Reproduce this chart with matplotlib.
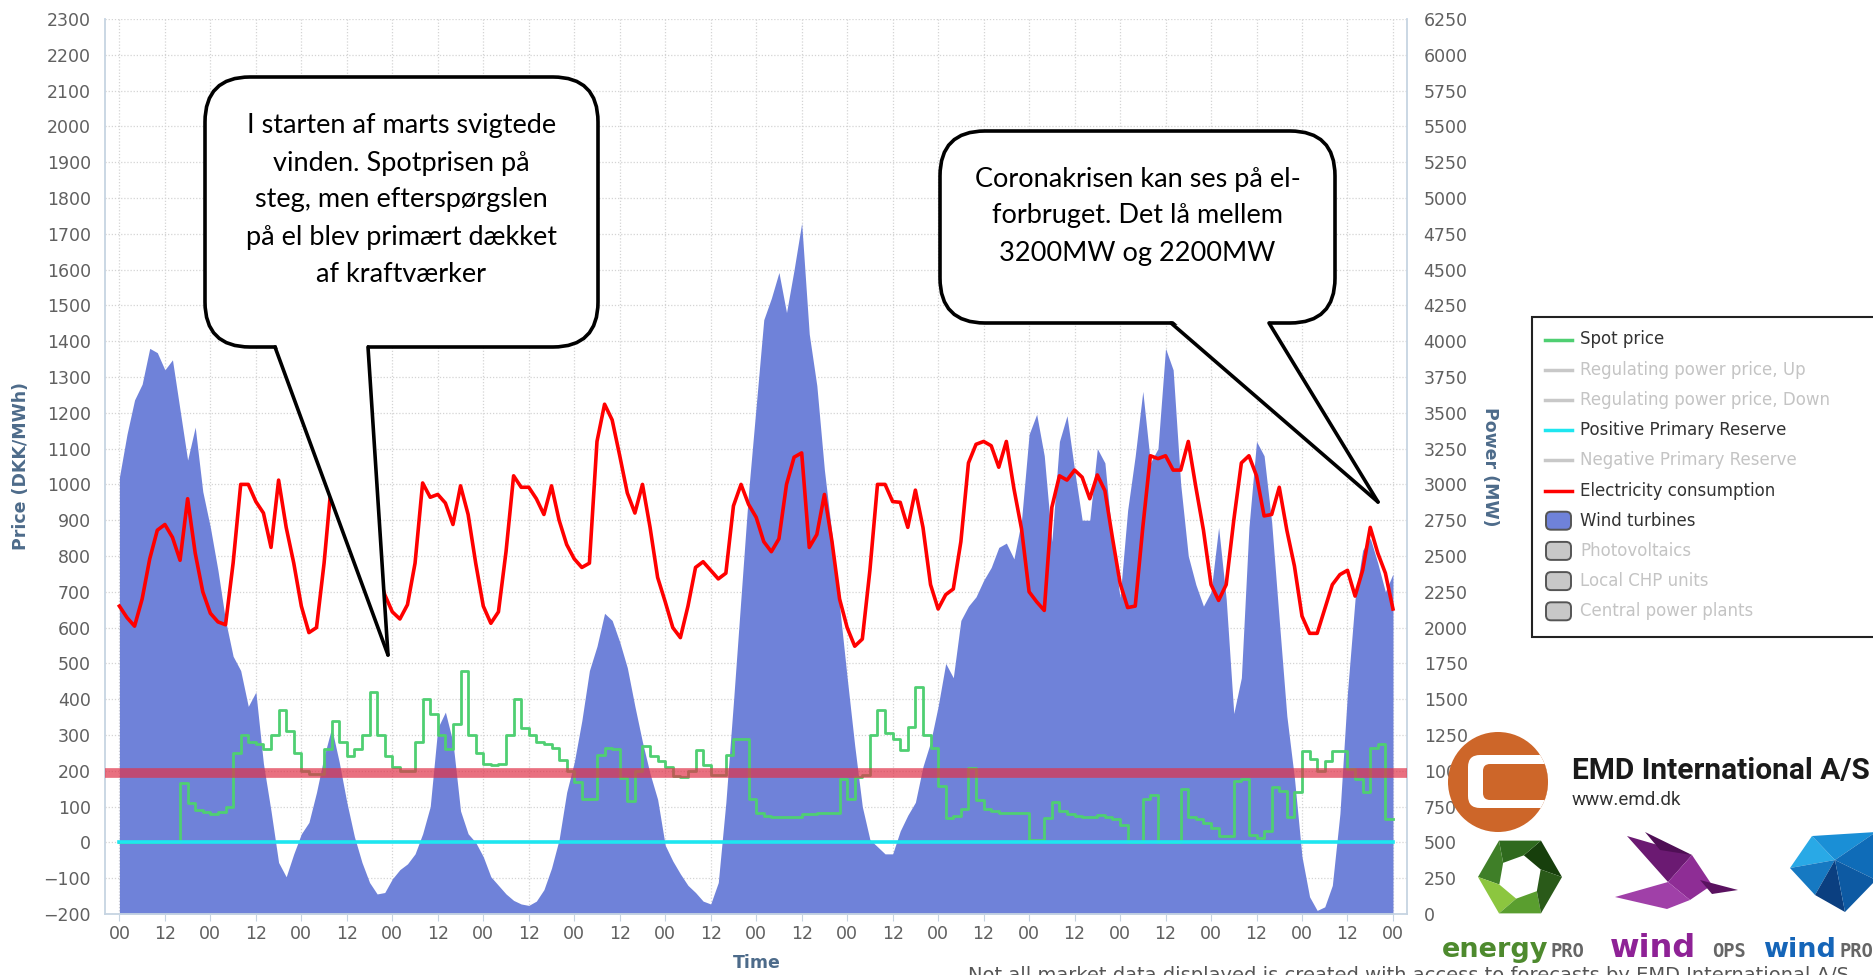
import numpy as np
import matplotlib.pyplot as plt
from matplotlib.patches import FancyBboxPatch, Polygon, Circle, Rectangle

# ---- data: 14 days, values every 2 hours ----
# wind turbine production (MW), h = 0, 2, ..., 336
wind_mw = [
    3050, 3350, 3590, 3700, 3950, 3920, 3800, 3870, 3520, 3170, 3400, 2950,
    2700, 2400, 2050, 1800, 1700, 1450, 1550, 1050, 720, 360, 260, 420,
    560, 640, 850, 1100, 1300, 1060, 780, 540, 360, 220, 140, 150,
    245, 310, 350, 420, 560, 750, 1300, 1410, 1200, 720, 560, 500,
    400, 260, 200, 140, 95, 70, 60, 90, 170, 320, 520, 850,
    1060, 1350, 1700, 1870, 2100, 2050, 1900, 1720, 1450, 1200, 980, 800,
    480, 370, 280, 200, 150, 90, 70, 220, 780, 1480, 2215, 2950,
    3550, 4150, 4300, 4480, 4200, 4500, 4825, 4050, 3690, 3100, 2650, 2150,
    1650, 1175, 750, 520, 470, 420, 420, 580, 690, 780, 1030, 1200,
    1450, 1750, 1650, 2050, 2150, 2215, 2330, 2420, 2560, 2590, 2480, 2750,
    3350, 3490, 3200, 2600, 3300, 3480, 3100, 2750, 2750, 3250, 3150, 2600,
    2210, 2820, 3200, 3650, 3150, 3250, 3950, 3800, 3000, 2500, 2300, 2150,
    2250, 2700, 2200, 1400, 1650, 2700, 3300, 3200, 2735, 2050, 1383, 950,
    400, 120, 25, 50, 200, 700, 1550, 2200, 2540, 2625, 2450, 2250,
    2375,
]

# electricity consumption (MW)
consumption_mw = [
    2150, 2070, 2010, 2200, 2480, 2680, 2720, 2630, 2470, 2900, 2520, 2250,
    2100, 2040, 2020, 2450, 3000, 3000, 2880, 2800, 2560, 3030, 2700, 2450,
    2150, 1965, 2000, 2450, 3030, 3000, 2950, 2980, 2900, 2750, 2400, 2230,
    2110, 2060, 2160, 2450, 3010, 2910, 2930, 2870, 2720, 2990, 2790, 2450,
    2150, 2030, 2110, 2530, 3060, 2980, 2980, 2900, 2790, 2990, 2750, 2580,
    2480, 2420, 2450, 3300, 3560, 3450, 3200, 2940, 2800, 3000, 2700, 2350,
    2180, 2000, 1930, 2150, 2420, 2460, 2400, 2340, 2380, 2850, 3000, 2860,
    2770, 2600, 2530, 2620, 3000, 3190, 3220, 2560, 2650, 2930, 2600, 2200,
    2000, 1870, 1920, 2400, 3000, 3000, 2880, 2875, 2700, 2960, 2700, 2300,
    2130, 2230, 2270, 2600, 3150, 3280, 3300, 3270, 3120, 3300, 2970, 2690,
    2250, 2180, 2120, 2840, 3060, 3030, 3100, 3050, 2900, 3066, 2956, 2625,
    2310, 2140, 2150, 2700, 3200, 3180, 3200, 3100, 3100, 3300, 2980, 2680,
    2300, 2190, 2300, 2750, 3150, 3200, 3060, 2780, 2790, 2980, 2680, 2430,
    2080, 1960, 1960, 2130, 2300, 2370, 2400, 2220, 2400, 2700, 2520, 2380,
    2130,
]

# spot price (DKK/MWh), one value per 2-hour step starting at h = 0, 2, ..., 334
spot_price = [
    0, 0, 0, 0, 0, 0, 0, 0, 165, 110, 90, 85,
    80, 85, 100, 250, 300, 280, 275, 260, 300, 370, 310, 250,
    200, 190, 190, 260, 340, 280, 240, 260, 300, 420, 300, 240,
    210, 200, 200, 280, 400, 360, 300, 260, 330, 480, 300, 250,
    220, 215, 220, 300, 400, 320, 300, 280, 275, 265, 230, 200,
    170, 120, 120, 245, 265, 260, 180, 115, 200, 270, 240, 226,
    210, 185, 182, 200, 258, 215, 189, 189, 245, 289, 290, 120,
    82, 75, 70, 70, 70, 72, 78, 80, 82, 82, 82, 176,
    120, 182, 189, 300, 371, 305, 290, 258, 321, 434, 300, 264,
    157, 69, 75, 94, 208, 119, 94, 88, 82, 82, 82, 82,
    6, 6, 69, 113, 88, 80, 75, 70, 72, 77, 70, 66,
    50, 0, 0, 120, 132, 0, 0, 0, 149, 72, 65, 55,
    40, 17, 17, 171, 177, 22, 11, 33, 155, 143, 72, 140,
    254, 232, 199, 226, 254, 254, 204, 177, 140, 265, 276, 66,
]

reserve_price = 0      # positive primary reserve
band_price = 195       # red horizontal band

legend_labels = ["Spot price", "Regulating power price, Up", "Regulating power price, Down",
                 "Positive Primary Reserve", "Negative Primary Reserve", "Electricity consumption",
                 "Wind turbines", "Photovoltaics", "Local CHP units", "Central power plants"]
legend_kinds = ["line", "line", "line", "line", "line", "line", "box", "box", "box", "box"]
legend_colors = ["#4fcf72", "#c8c8c8", "#c8c8c8", "#1ee6f0", "#c8c8c8", "#ff0000",
                 "#6f82d9", "#c8c8c8", "#c8c8c8", "#c8c8c8"]
legend_active = [True, False, False, True, False, True, True, False, False, False]

note1 = "I starten af marts svigtede\nvinden. Spotprisen på\nsteg, men efterspørgslen\npå el blev primært dækket\naf kraftværker"
note2 = "Coronakrisen kan ses på el-\nforbruget. Det lå mellem\n3200MW og 2200MW"

hours = np.arange(len(wind_mw)) * 2
spot_hours = np.arange(len(spot_price) + 1) * 2

W, H = 1874, 975
fig = plt.figure(figsize=(W / 100, H / 100), dpi=100)
ax = fig.add_axes([105 / W, 61 / H, 1302 / W, 895 / H])
ax2 = ax.twinx()
ax.set_zorder(ax2.get_zorder() + 1)
ax.patch.set_visible(False)

axis_col = "#c6d4e2"
tick_col = "#606060"
label_col = "#4d6b8a"

# power axis: wind + consumption
ax2.fill_between(hours, 0, wind_mw, color="#6f82d9", lw=0, zorder=1)
ax2.plot(hours, consumption_mw, color="#ff0000", lw=2.6, zorder=2)

# price axis: spot, reserve, band
ax.step(spot_hours, spot_price + [spot_price[-1]], where="post", color="#4fcf72", lw=2.0, zorder=2)
ax.plot([hours[0], hours[-1]], [reserve_price, reserve_price], color="#1ee6f0", lw=2.6, zorder=2.5)
ax.axhline(band_price, color="#e0334a", alpha=0.7, lw=7, zorder=3)

ax.set_xlim(-3.8, 339.7)
ax.set_ylim(-200, 2300)
ax.set_yticks(range(-200, 2301, 100))
ax2.set_ylim(0, 6250)
ax2.set_yticks(range(0, 6251, 250))
xt = np.arange(0, 337, 12)
ax.set_xticks(xt)
ax.set_xticklabels(["00" if t % 24 == 0 else "12" for t in xt])

ax2.xaxis.set_visible(True)
ax2.tick_params(axis="x", bottom=False, labelbottom=False, top=False, labeltop=False)
ax2.set_axisbelow(True)
ax2.grid(True, color="#d4d4d4", linestyle=(0, (1, 1.5)), lw=0.9)

ax.tick_params(axis="y", length=0, labelsize=12.5, labelcolor=tick_col, pad=10)
ax2.tick_params(axis="y", length=0, labelsize=12.5, labelcolor=tick_col, pad=12)
ax.tick_params(axis="x", length=5, color=axis_col, labelsize=12.5, labelcolor=tick_col, pad=3)

for s in ["top", "right"]:
    ax.spines[s].set_visible(False)
for s in ["top", "left", "bottom"]:
    ax2.spines[s].set_visible(False)
ax.spines["left"].set_color(axis_col)
ax.spines["bottom"].set_color(axis_col)
ax2.spines["right"].set_color(axis_col)
for sp in [ax.spines["left"], ax.spines["bottom"], ax2.spines["right"]]:
    sp.set_linewidth(1.3)

ax.set_ylabel("Price (DKK/MWh)", fontsize=12.5, fontweight="bold", color=label_col, va="center")
ax.yaxis.set_label_coords((21 - 105) / 1302, 0.5)
ax2.set_ylabel("Power (MW)", fontsize=12.5, fontweight="bold", color=label_col, rotation=270, va="center")
ax2.yaxis.set_label_coords((1490 - 105) / 1302, 0.5)
ax.set_xlabel("Time", fontsize=12.5, fontweight="bold", color=label_col, va="center")
ax.xaxis.set_label_coords((757 - 105) / 1302, (914 - 963) / 895)

# ---- overlay in pixel coordinates ----
ov = fig.add_axes([0, 0, 1, 1])
ov.set_xlim(0, W)
ov.set_ylim(H, 0)
ov.axis("off")
ov.set_zorder(20)


def speech_bubble(box, base, tip, text, text_y):
    x0, y0, x1, y1 = box
    ov.add_patch(FancyBboxPatch((x0, y0), x1 - x0, y1 - y0, boxstyle="round,pad=0,rounding_size=45",
                                fc="white", ec="black", lw=2.6, zorder=5))
    ov.add_patch(Polygon([(base[0] + 1, y1 - 3), (base[1] - 1, y1 - 3), tip], closed=True,
                         fc="white", ec="none", zorder=6))
    for b in base:
        ov.plot([b, tip[0]], [y1, tip[1]], color="black", lw=2.6, zorder=7, solid_capstyle="round")
    ov.text((x0 + x1) / 2, text_y, text, ha="center", va="center", fontsize=19.5,
            family=["Lato", "DejaVu Sans"], linespacing=1.6, zorder=8)


speech_bubble((205, 77, 598, 347), (275, 368), (388, 655), note1, 200)
speech_bubble((940, 131, 1335, 323), (1171, 1269), (1378, 502), note2, 216)

# legend
ov.add_patch(Rectangle((1532, 317), 400, 320, fc="white", ec="#222222", lw=1.5, zorder=5))
for i, (lab, kind, col, act) in enumerate(zip(legend_labels, legend_kinds, legend_colors, legend_active)):
    y = 339.5 + 30.2 * i
    if kind == "line":
        ov.plot([1545, 1572], [y, y], color=col, lw=2.5, zorder=6)
    else:
        ov.add_patch(FancyBboxPatch((1546, y - 9), 25, 18, boxstyle="round,pad=0,rounding_size=5",
                                    fc=col, ec="#555555", lw=1.4, zorder=6))
    ov.text(1580, y, lab, va="center", ha="left", fontsize=12,
            color="#333333" if act else "#c4c4c4", zorder=6)

# EMD logo
circ = Circle((1498, 782), 50, fc="#cd6629", ec="none", zorder=5)
ov.add_patch(circ)
band = FancyBboxPatch((1468, 755), 110, 53, boxstyle="round,pad=0,rounding_size=12",
                      fc="white", ec="none", zorder=6)
ov.add_patch(band)
band.set_clip_path(circ)
inner = FancyBboxPatch((1483, 764), 95, 36, boxstyle="round,pad=0,rounding_size=7",
                       fc="#cd6629", ec="none", zorder=7)
ov.add_patch(inner)
inner.set_clip_path(circ)
ov.text(1572, 779, "EMD International A/S", fontsize=21.5, fontweight="bold",
        family=["Roboto", "DejaVu Sans"], color="#1a1a1a", va="baseline", zorder=6)
ov.text(1572, 800, "www.emd.dk", fontsize=13.5, family=["Roboto", "DejaVu Sans"],
        color="#333333", va="center", zorder=6)

# energyPRO hexagon
cx, cy = 1520, 877
ang = np.deg2rad(np.arange(0, 360, 60))
outer = np.c_[cx + 42 * np.cos(ang), cy - 42 * np.sin(ang)]
ang_in = ang + np.deg2rad(20)
inner_h = np.c_[cx + 22 * np.cos(ang_in), cy - 22 * np.sin(ang_in)]
hex_cols = ["#173f0c", "#2f6a1e", "#3f7f28", "#8cc63f", "#5a9e2f", "#2a5a19"]
for k in range(6):
    j = (k + 1) % 6
    ov.add_patch(Polygon([outer[k], outer[j], inner_h[j], inner_h[k]], closed=True,
                         fc=hex_cols[k], ec="none", zorder=6))

# windOPS bird
bird = [
    ([(1627, 836), (1692, 855), (1668, 882)], "#6b1a72"),
    ([(1645, 832), (1692, 855), (1660, 850)], "#4f0f55"),
    ([(1668, 882), (1692, 855), (1712, 885), (1690, 900)], "#8e2d95"),
    ([(1700, 880), (1738, 890), (1712, 894)], "#5a1260"),
    ([(1615, 897), (1668, 882), (1690, 900), (1667, 909)], "#a040a8"),
]
for pts, col in bird:
    ov.add_patch(Polygon(pts, closed=True, fc=col, ec="none", zorder=6))

# windPRO gem
gem = [
    ([(1790, 868), (1812, 836), (1835, 860)], "#29a9e6"),
    ([(1812, 836), (1876, 832), (1835, 860)], "#1a8fd6"),
    ([(1790, 868), (1835, 860), (1815, 895)], "#1679c2"),
    ([(1835, 860), (1876, 880), (1876, 832)], "#0f6cb8"),
    ([(1815, 895), (1835, 860), (1845, 912)], "#0b3f80"),
    ([(1835, 860), (1876, 880), (1845, 912)], "#0d5aa3"),
]
for pts, col in gem:
    ov.add_patch(Polygon(pts, closed=True, fc=col, ec="none", zorder=6))

brand = [("energy", 1442, "#4e8a2e", 19.5), ("PRO", 1551, "#666666", 0),
         ("wind", 1610, "#8e2296", 23), ("OPS", 1712, "#666666", 0),
         ("wind", 1763, "#1565b8", 19.5), ("PRO", 1840, "#666666", 0)]
for txt, x, col, size in brand:
    if size:
        ov.text(x, 957, txt, fontsize=size, fontweight="bold", color=col, va="baseline", zorder=6)
    else:
        ov.text(x, 957, txt, fontsize=13.5, fontweight="bold", family="DejaVu Sans Mono",
                color=col, va="baseline", zorder=6)

ov.text(968, 966, "Not all market data displayed is created with access to forecasts by EMD International A/S",
        fontsize=14, color="#555555", va="top", ha="left", zorder=4)

fig.savefig("out.png", dpi=100)
